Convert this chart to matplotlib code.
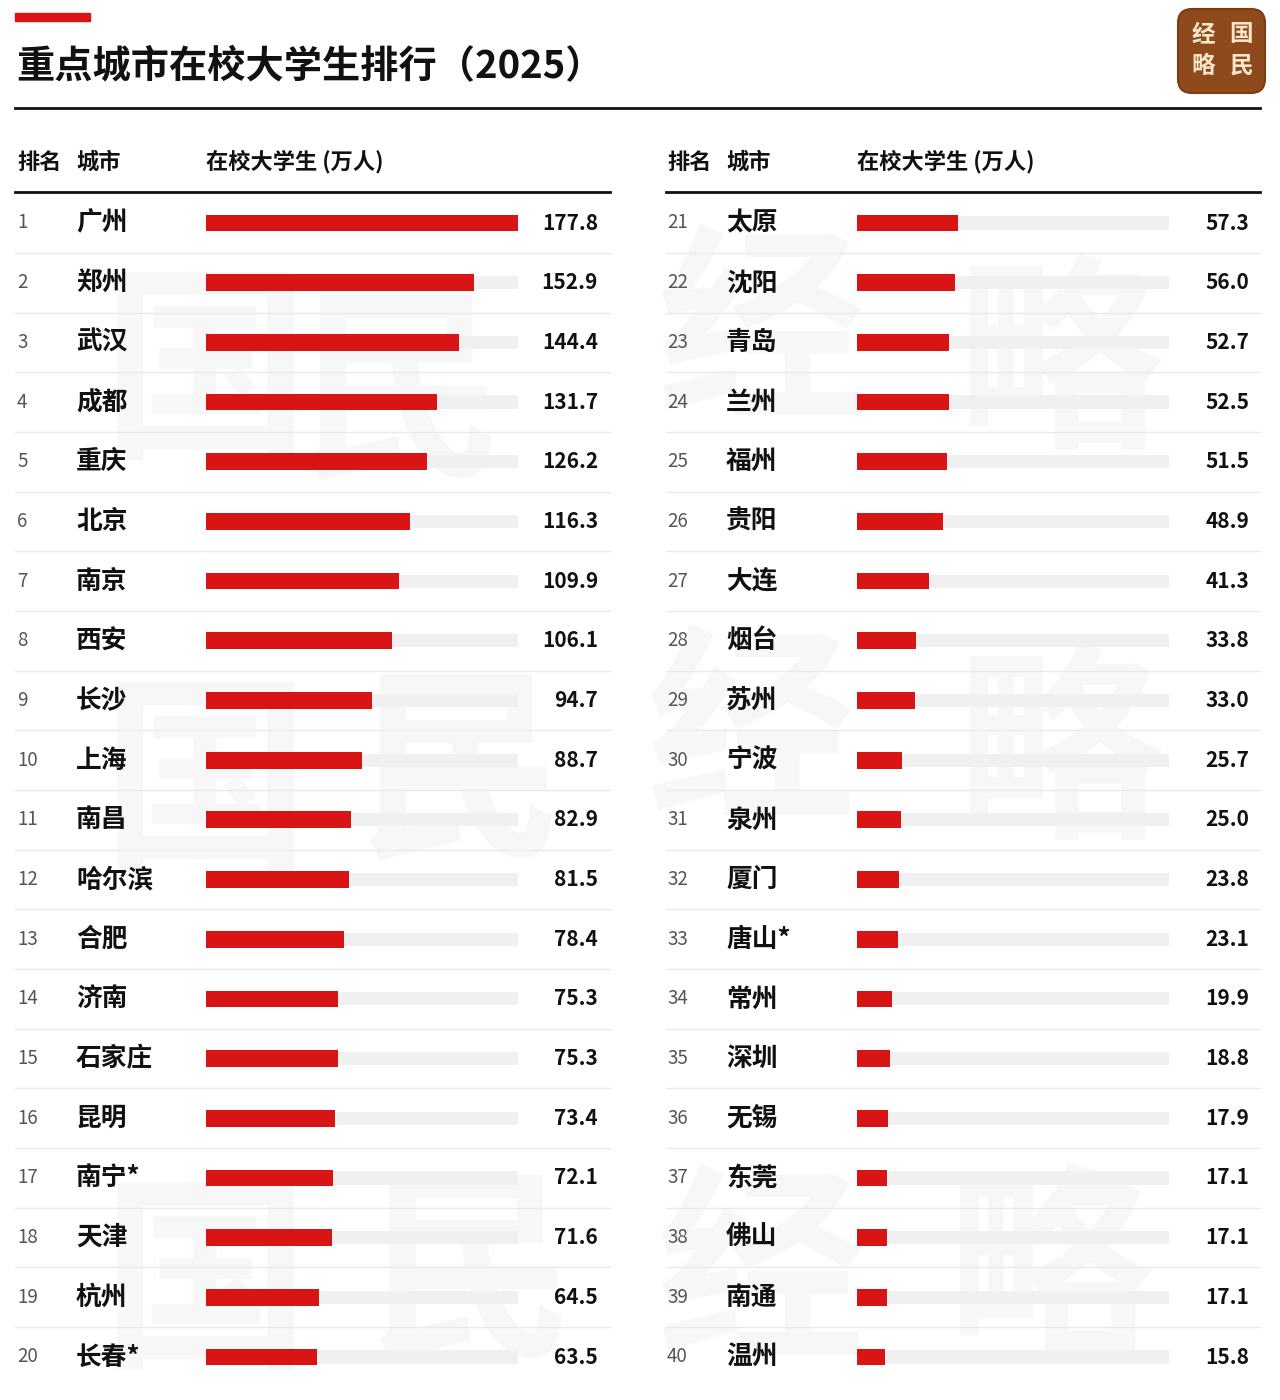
import matplotlib
matplotlib.use("Agg")
import matplotlib.pyplot as plt
from matplotlib.patches import FancyBboxPatch, Rectangle

plt.rcParams['font.family'] = ['Noto Sans CJK SC', 'DejaVu Sans']

title = "重点城市在校大学生排行（2025）"
headers = ["排名", "城市", "在校大学生 (万人)"]
ranks = list(range(1, 41))
cities = ["广州", "郑州", "武汉", "成都", "重庆", "北京", "南京", "西安", "长沙", "上海",
          "南昌", "哈尔滨", "合肥", "济南", "石家庄", "昆明", "南宁*", "天津", "杭州", "长春*",
          "太原", "沈阳", "青岛", "兰州", "福州", "贵阳", "大连", "烟台", "苏州", "宁波",
          "泉州", "厦门", "唐山*", "常州", "深圳", "无锡", "东莞", "佛山", "南通", "温州"]
values = [177.8, 152.9, 144.4, 131.7, 126.2, 116.3, 109.9, 106.1, 94.7, 88.7,
          82.9, 81.5, 78.4, 75.3, 75.3, 73.4, 72.1, 71.6, 64.5, 63.5,
          57.3, 56.0, 52.7, 52.5, 51.5, 48.9, 41.3, 33.8, 33.0, 25.7,
          25.0, 23.8, 23.1, 19.9, 18.8, 17.9, 17.1, 17.1, 17.1, 15.8]
track_max = 177.8

W, H = 1280, 1400
fig = plt.figure(figsize=(W / 100, H / 100), dpi=100)
fig.patch.set_facecolor("white")

ov = fig.add_axes([0, 0, 1, 1])
ov.set_xlim(0, W)
ov.set_ylim(H, 0)
ov.axis("off")

RED = "#D91414"
TRACK = "#F0F0F0"

# faint watermark
wm = [("国", 205, 380), ("民", 400, 400), ("经", 760, 340), ("略", 1060, 370),
      ("国", 205, 790), ("民", 460, 780), ("经", 750, 740), ("略", 1060, 760),
      ("国", 205, 1290), ("民", 470, 1280), ("经", 760, 1280), ("略", 1050, 1280)]
for ch, x, y in wm:
    ov.text(x, y, ch, fontsize=150, fontweight="bold", color="#000000", alpha=0.03,
            ha="center", va="center", zorder=0)

ov.add_patch(Rectangle((15, 13), 75, 8, color=RED, zorder=2))
ov.text(16, 67, title, fontsize=27.5, fontweight="black", color="#111111",
        ha="left", va="center")
ov.plot([15, 1260], [108, 108], color="#111111", lw=2)

ov.add_patch(FancyBboxPatch((1178, 9), 87, 84, boxstyle="round,pad=0,rounding_size=14",
                            fc="#8E4A1C", ec="#7A3C12", lw=1.5, zorder=3))
for ch, x, y in [("经", 1203, 34), ("国", 1241, 34), ("略", 1203, 66), ("民", 1241, 66)]:
    ov.text(x, y, ch, fontsize=17, fontweight="bold", color="#F6E7C8",
            ha="center", va="center", zorder=4)

row0 = 223
step = (1357 - 223) / 19
panels = [dict(x0=15, x1=610, rank=17, city=76, bar=206, val=598, idx=range(0, 20)),
          dict(x0=666, x1=1260, rank=667, city=726, bar=857, val=1249, idx=range(20, 40))]

for p in panels:
    for txt, x in zip(headers, (p["rank"], p["city"], p["bar"])):
        ov.text(x, 162, txt, fontsize=16, fontweight="bold", color="#111111",
                ha="left", va="center")
    ov.plot([p["x0"], p["x1"]], [192, 192], color="#111111", lw=2)

    bw = 312
    top = row0 - step / 2
    bot = row0 + 19.5 * step
    ax = fig.add_axes([p["bar"] / W, 1 - bot / H, bw / W, (bot - top) / H])
    ax.set_xlim(0, track_max)
    ax.set_ylim(19.5, -0.5)
    ax.axis("off")
    ax.patch.set_alpha(0)
    idx = list(p["idx"])
    ys = list(range(len(idx)))
    ax.barh(ys, [track_max] * len(idx), height=0.22, color=TRACK, zorder=1)
    ax.barh(ys, [values[i] for i in idx], height=0.28, color=RED, zorder=2)

    for k, i in enumerate(idx):
        y = row0 + k * step
        ov.text(p["rank"], y, str(ranks[i]), fontsize=13.5, fontweight="light",
                color="#555555", ha="left", va="center")
        ov.text(p["city"], y, cities[i], fontsize=18.5, fontweight="black", color="#111111",
                ha="left", va="center")
        ov.text(p["val"], y, f"{values[i]:.1f}", fontsize=15, fontweight="bold",
                color="#111111", ha="right", va="center")
        if k < len(idx) - 1:
            ys_ = y + step / 2
            ov.plot([p["x0"], p["x1"]], [ys_, ys_], color="#EAEAEA", lw=1)

fig.savefig("out.png", dpi=100, facecolor="white")
